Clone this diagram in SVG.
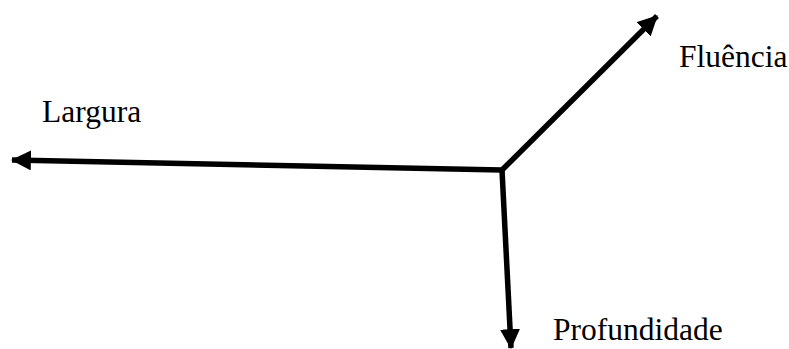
<svg xmlns="http://www.w3.org/2000/svg" width="789" height="349" viewBox="0 0 789 349">
<style>
.lbl{font-family:"Liberation Serif","Times New Roman",serif;font-size:31.5px;fill:#000}
.ax{stroke:#000;stroke-width:5.5;fill:none}
</style>
<defs>
<marker id="ah" markerUnits="userSpaceOnUse" markerWidth="20" markerHeight="20" viewBox="0 0 18 18" refX="17" refY="9" orient="auto">
<path d="M0,0 L18,9 L0,18 Z" fill="#000"/>
</marker>
</defs>
<rect width="789" height="349" fill="#fff"/>
<g id="connectors">
<line class="ax" x1="502" y1="170" x2="12" y2="160" marker-end="url(#ah)"/>
<line class="ax" x1="502" y1="170" x2="657" y2="16" marker-end="url(#ah)"/>
<line class="ax" x1="502" y1="170" x2="511" y2="348" marker-end="url(#ah)"/>
</g>
<g id="largura"><text class="lbl" x="42" y="122">Largura</text></g>
<g id="fluencia"><text class="lbl" x="679" y="67">Fluência</text></g>
<g id="profundidade"><text class="lbl" x="553" y="340">Profundidade</text></g>
</svg>
